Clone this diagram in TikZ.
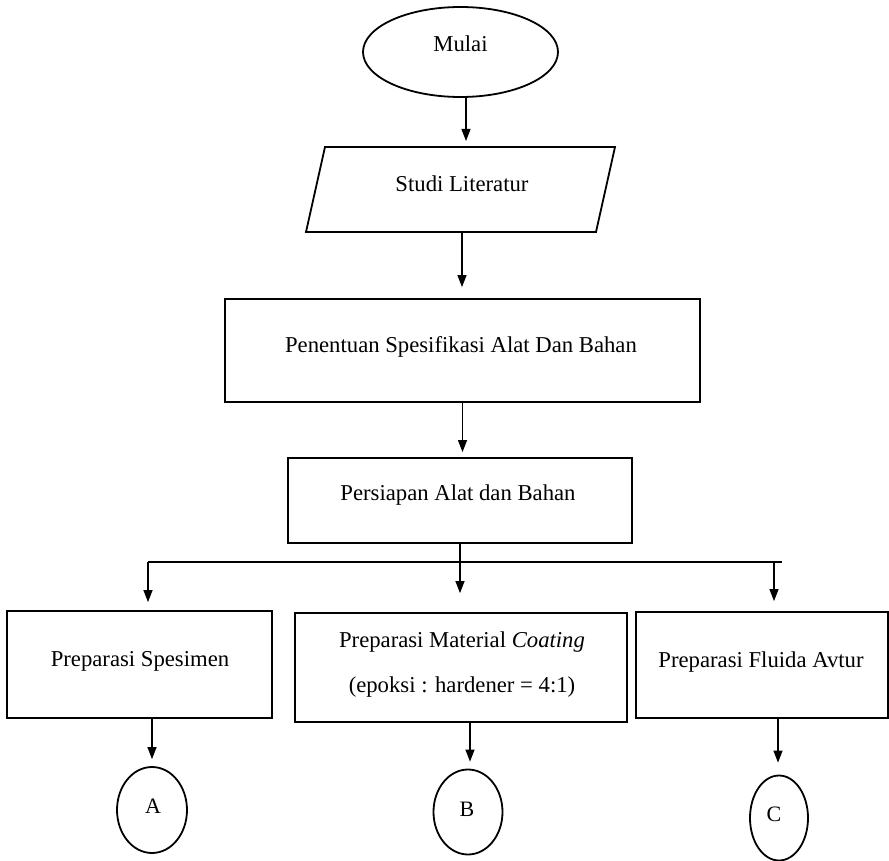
\documentclass[tikz,border=0pt]{standalone}
\usepackage{fontspec}
\setmainfont{Liberation Serif}
\usetikzlibrary{shapes.geometric,arrows.meta}
\begin{document}
\begin{tikzpicture}[x=1pt,y=-1pt,
  shp/.style={draw, line width=1.8pt, inner sep=0pt},
  box/.style={shp, rectangle},
  oval/.style={shp, ellipse},
  txt/.style={anchor=base, inner sep=0pt, font=\fontsize{22.7}{27}\selectfont},
  ltr/.style={anchor=base, inner sep=0pt, font=\fontsize{22}{26}\selectfont},
  conn/.style={line width=1.2pt, -{Triangle[width=9pt,length=12pt]}},
  plainline/.style={line width=1.2pt}]
\useasboundingbox (0,0) rectangle (889,861);

% start
\node[oval, minimum width=195pt, minimum height=90pt] (mulai) at (460.5,52) {};
\node[txt] (tMulai) at (460.5,52) {Mulai};

% parallelogram
\coordinate (p1) at (325,147);
\coordinate (p2) at (615,147);
\coordinate (p3) at (596,232);
\coordinate (p4) at (306,232);
\draw[shp, line join=miter] (p1) -- (p2) -- (p3) -- (p4) -- cycle;
\coordinate (parTop) at (466,147);
\coordinate (parBot) at (462,232);
\node[txt] (tStudi) at (462,192) {Studi Literatur};

% boxes
\node[box, minimum width=475pt, minimum height=103pt] (spek) at (462.5,350.5) {};
\node[txt] (tSpek) at (461,352) {Penentuan Spesifikasi Alat Dan Bahan};
\node[box, minimum width=344pt, minimum height=85pt] (pers) at (460,500.5) {};
\node[txt] (tPers) at (458,500) {Persiapan Alat dan Bahan};

\node[box, minimum width=265pt, minimum height=107pt] (rA) at (139.5,664.5) {};
\node[txt] (tA) at (140,666) {Preparasi Spesimen};
\node[box, minimum width=332pt, minimum height=109pt] (rB) at (461,667.5) {};
\node[txt] (tB1) at (462,647) {Preparasi Material \textit{Coating}};
\node[txt] (tB2) at (462,692) {(epoksi : hardener = 4:1)};
\node[box, minimum width=252pt, minimum height=106pt] (rC) at (762,665) {};
\node[txt] (tC) at (761,667) {Preparasi Fluida Avtur};

% connectors circles
\node[oval, minimum width=70pt, minimum height=86pt] (cA) at (152,810) {};
\node[ltr] (lA) at (153,813) {A};
\node[oval, minimum width=69pt, minimum height=85pt] (cB) at (468,812) {};
\node[ltr] (lB) at (467,816) {B};
\node[oval, minimum width=58pt, minimum height=85pt] (cC) at (779,818) {};
\node[ltr] (lC) at (774,821) {C};

% connectors
\draw[conn, shorten >=6pt] (mulai.south -| parTop) -- (parTop);
\draw[conn, shorten >=11pt] (parBot) -- (parBot |- spek.north);
\draw[conn, shorten >=5pt] (spek.south) -- (spek.south |- pers.north);

\coordinate (hL) at (148,562);
\coordinate (hR) at (782,562);
\coordinate (hC) at (774,562);
\draw[plainline] (hL) -- (hR);
\draw[conn, shorten >=19pt] (pers.south) -- (pers.south |- rB.north);
\draw[conn, shorten >=8pt] (hL) -- (hL |- rA.north);
\draw[conn, shorten >=10pt] (hC) -- (hC |- rC.north);

\draw[conn, shorten >=7pt] (cA.north |- rA.south) -- (cA.north);
\coordinate (bB) at (470,722);
\draw[conn, shorten >=7pt] (bB) -- (bB |- cB.north);
\coordinate (bC) at (778,718);
\draw[conn, shorten >=12pt] (bC) -- (bC |- cC.north);
\end{tikzpicture}
\end{document}
